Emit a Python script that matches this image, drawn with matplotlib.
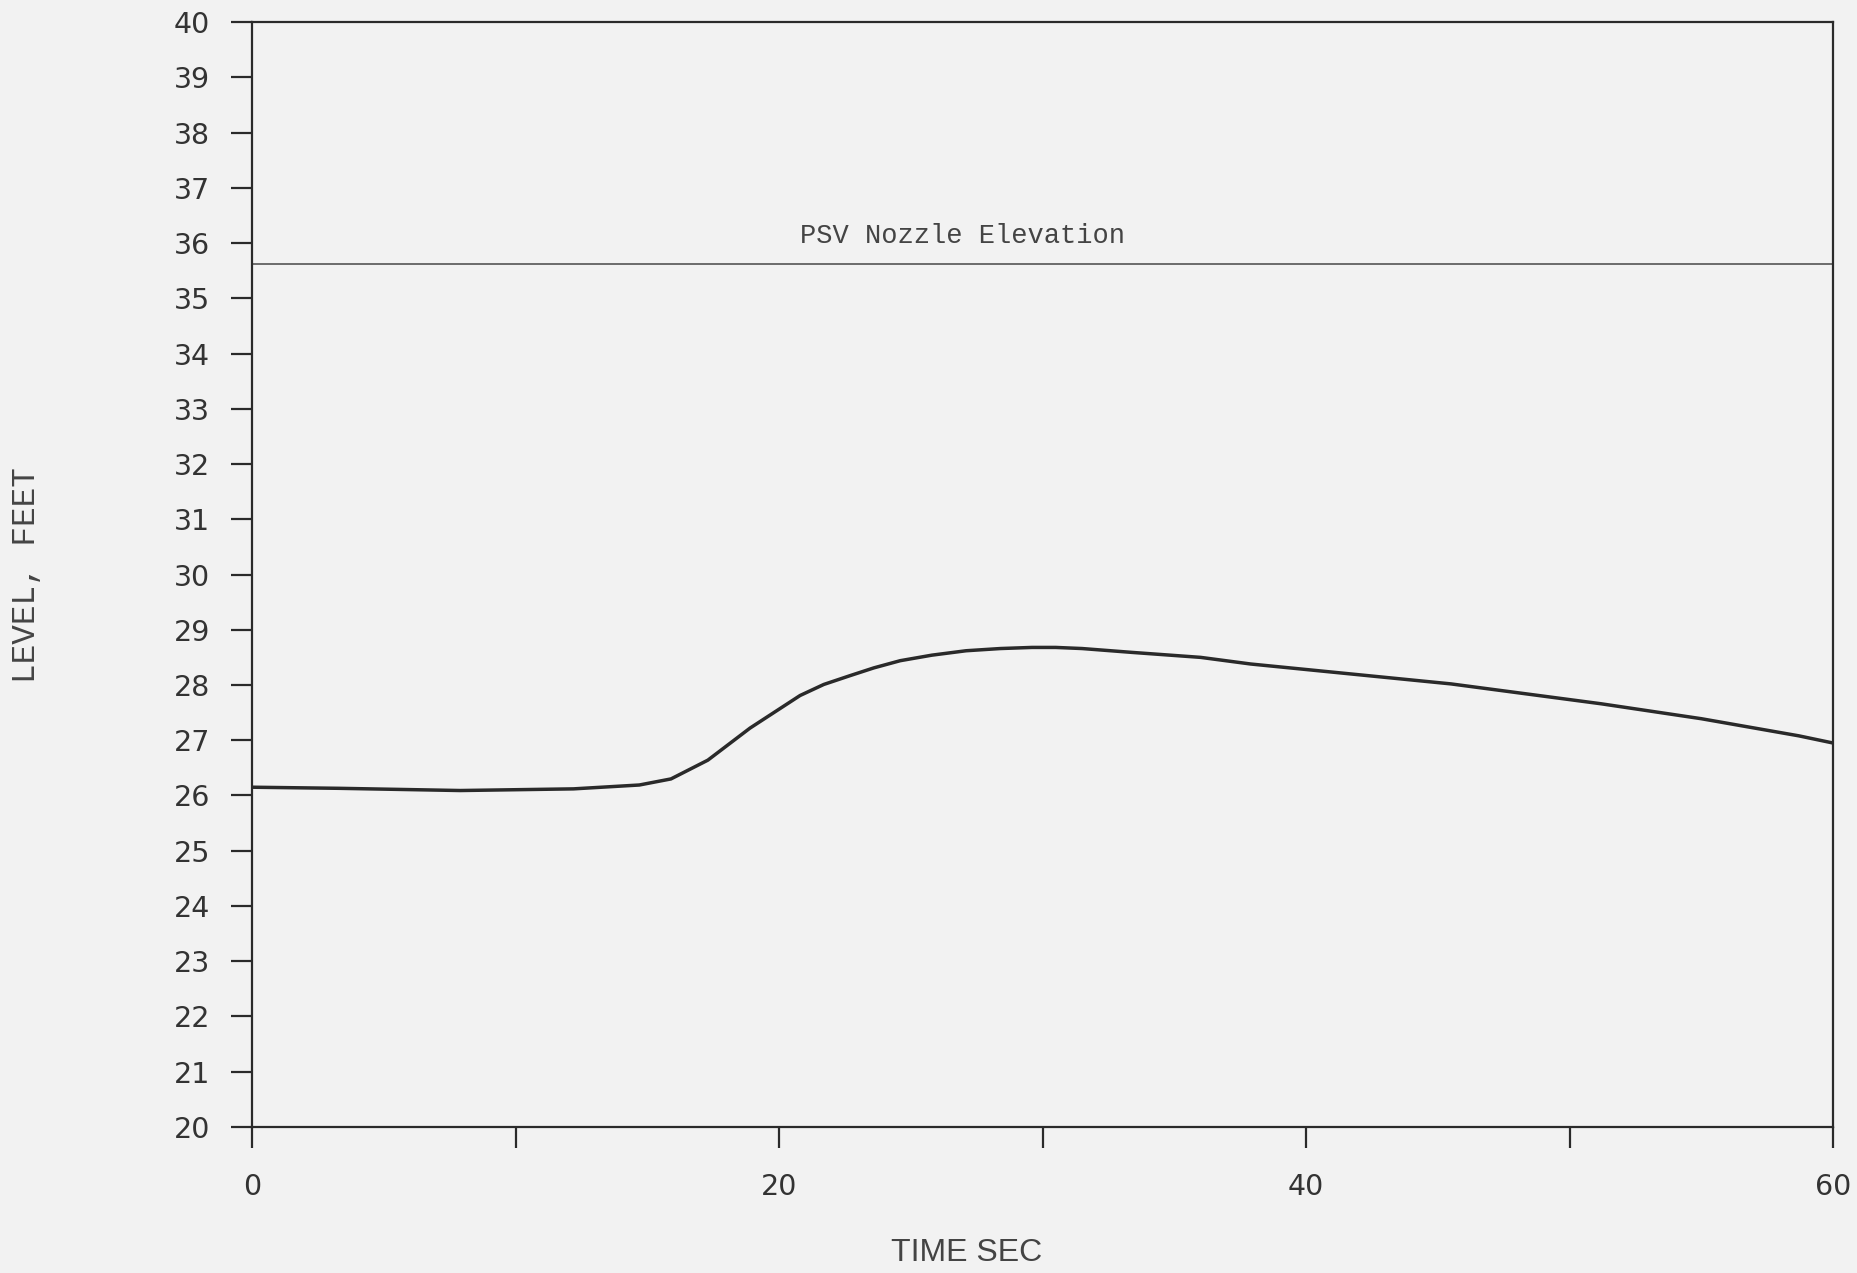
import matplotlib
matplotlib.use("Agg")
import matplotlib.pyplot as plt

# Level vs time
time_sec = [0, 3.3, 7.9, 12.2, 14.7, 15.9, 17.3, 18.9, 20.8, 21.7, 22.7, 23.6,
            24.6, 25.8, 27.1, 28.4, 29.6, 30.5, 31.5, 33.4, 36.0, 37.9, 41.7,
            45.5, 49.3, 51.2, 55.0, 58.7, 60]
level_ft = [26.15, 26.13, 26.09, 26.12, 26.19, 26.30, 26.64, 27.22, 27.81, 28.01,
            28.17, 28.31, 28.44, 28.54, 28.62, 28.66, 28.68, 28.68, 28.66, 28.59,
            28.50, 28.38, 28.20, 28.02, 27.78, 27.66, 27.39, 27.08, 26.95]

psv_elevation = 35.62
psv_label = "PSV Nozzle Elevation"

x_ticks = [0, 10, 20, 30, 40, 50, 60]
x_tick_labels = ["0", "", "20", "", "40", "", "60"]
y_ticks = list(range(20, 41))

bg = "#f2f2f2"
ink = "#2a2a2a"

fig = plt.figure(figsize=(18.57, 12.73), dpi=100, facecolor=bg)
ax = fig.add_axes([0.1357, 0.1147, 0.9871 - 0.1357, 0.9827 - 0.1147])
ax.set_facecolor(bg)

ax.plot(time_sec, level_ft, color=ink, lw=2.5, solid_joinstyle="round",
        solid_capstyle="round")
ax.axhline(psv_elevation, color="#555555", lw=1.2)
ax.text(20.8, 36.0, psv_label, family="Liberation Mono", fontsize=19.5,
        color="#444444", va="baseline", ha="left")

ax.set_xlim(0, 60)
ax.set_ylim(20, 40)
ax.set_xticks(x_ticks)
ax.set_xticklabels(x_tick_labels)
ax.set_yticks(y_ticks)
ax.set_yticklabels([str(v) for v in y_ticks])

ax.tick_params(direction="out", length=15, width=1.6, color=ink,
               labelsize=20.5, labelcolor="#333333")
ax.tick_params(axis="y", pad=15)
ax.tick_params(axis="x", pad=18)
for lab in ax.get_xticklabels() + ax.get_yticklabels():
    lab.set_family("DejaVu Sans")

for s in ax.spines.values():
    s.set_color(ink)
    s.set_linewidth(1.6)

# axis titles sit in odd places on the scan, so put them on the figure
fig.text(27 / 1857, 1 - 575 / 1273, "LEVEL, FEET", rotation=90,
         family="Liberation Mono", fontsize=23.5, color="#444444",
         ha="center", va="center")
fig.text(967 / 1857, 1 - 1238 / 1273, "TIME SEC", family="Liberation Sans",
         fontsize=23, color="#444444", ha="center", va="top")

fig.savefig("out.png", dpi=100, facecolor=bg)
